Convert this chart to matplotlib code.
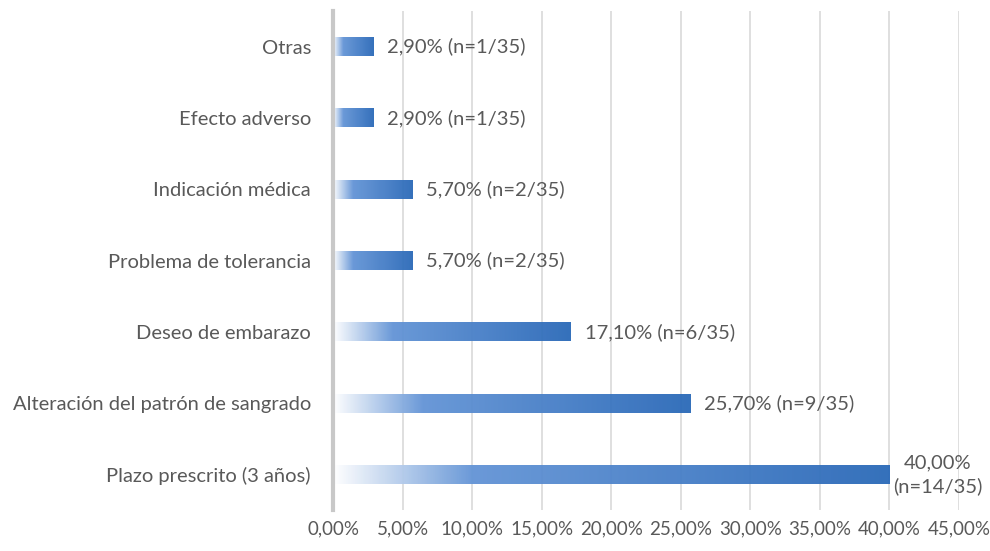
import numpy as np
import matplotlib
matplotlib.use('Agg')
from matplotlib import pyplot as plt
from matplotlib.colors import LinearSegmentedColormap

plt.rcParams['font.family'] = ['Lato', 'DejaVu Sans']

# Motivos de retirada, de arriba abajo
motivos = ['Otras', 'Efecto adverso', 'Indicación médica', 'Problema de tolerancia',
           'Deseo de embarazo', 'Alteración del patrón de sangrado', 'Plazo prescrito (3 años)']
porcentajes = [2.90, 2.90, 5.70, 5.70, 17.10, 25.70, 40.00]
n_casos = [1, 1, 2, 2, 6, 9, 14]
n_total = 35

xticks = np.arange(0, 46, 5)

gris = '#595959'
cmap = LinearSegmentedColormap.from_list(
    'azul', [(0.0, '#ffffff'), (0.25, '#6394d6'), (1.0, '#2a69b8')])

fig = plt.figure(figsize=(9.9, 5.51), dpi=100)
ax = fig.add_axes([0.3365, 0.074, 0.632, 0.906])

pos = np.arange(len(motivos))[::-1]
alto = 0.26
grad = np.linspace(0, 1, 256).reshape(1, -1)
fs = 14.5

for y, p, n in zip(pos, porcentajes, n_casos):
    # barra con degradado de blanco a azul
    ax.imshow(grad, cmap=cmap, aspect='auto', extent=[0, p, y - alto / 2, y + alto / 2],
              zorder=2, alpha=0.95)
    if p >= 40:
        etiqueta = '{:.2f}%\n(n={}/{})'.format(p, n, n_total).replace('.', ',')
        ax.text(p + 3.5, y, etiqueta, ha='center', va='center', fontsize=fs,
                color=gris, linespacing=1.4)
    else:
        etiqueta = '{:.2f}% (n={}/{})'.format(p, n, n_total).replace('.', ',')
        ax.text(p + 1.0, y, etiqueta, ha='left', va='center', fontsize=fs, color=gris)

ax.set_xlim(0, 45)
ax.set_ylim(-0.5, len(motivos) - 0.5)
ax.set_xticks(xticks)
ax.set_xticklabels(['{:.2f}%'.format(t).replace('.', ',') for t in xticks],
                   fontsize=13.5, color=gris)
ax.set_yticks(pos)
ax.set_yticklabels(motivos, fontsize=fs, color=gris)
ax.tick_params(axis='x', length=0, pad=7)
ax.tick_params(axis='y', length=0, pad=16)

ax.grid(axis='x', color='#d9d9d9', linewidth=1.2, zorder=1)
ax.set_axisbelow(True)
for s in ['top', 'right', 'bottom']:
    ax.spines[s].set_visible(False)
ax.spines['left'].set_color('#c8c8c8')
ax.spines['left'].set_linewidth(3)

fig.savefig('out.png', dpi=100)
